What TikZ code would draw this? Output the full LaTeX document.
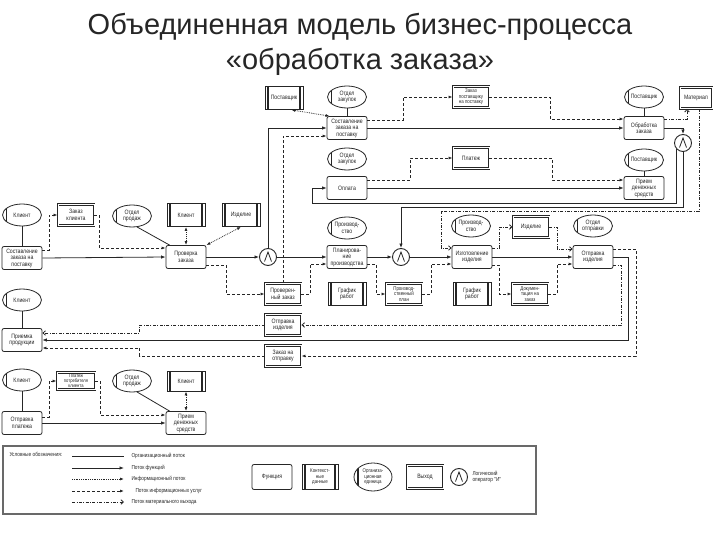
\documentclass[tikz,border=0pt]{standalone}
\usepackage[svgnames]{xcolor}
\usepackage{fontspec}
\setmainfont{Liberation Sans}
\newfontfamily\narrowfont[FakeStretch=0.82]{Liberation Sans}
\usetikzlibrary{shapes.geometric,arrows.meta}
\colorlet{lineCol}{black!85}
\colorlet{frameCol}{DimGray}
\colorlet{legendFill}{white}

\begin{document}
\begin{tikzpicture}[
  x=1pt, y=-1pt,
  every node/.style={
    font=\narrowfont\fontsize{6.3}{6.5}\selectfont,
    align=center,
    text=lineCol,
  },
  func/.style={
    draw=lineCol,
    line width=0.8pt,
    rounded corners=2pt,
    minimum width=40pt,
    minimum height=23pt,
    inner sep=0.5pt,
  },
  ctx/.style={
    draw=lineCol,
    line width=0.8pt,
    minimum width=38pt,
    minimum height=23pt,
    inner sep=0.5pt,
    path picture={
      \draw[line width=1.2pt] ([xshift=3pt]path picture bounding box.north west) -- ([xshift=3pt]path picture bounding box.south west);
      \draw[line width=1.2pt] ([xshift=-3pt]path picture bounding box.north east) -- ([xshift=-3pt]path picture bounding box.south east);
    },
  },
  outbox/.style={
    draw=lineCol,
    line width=0.9pt,
    double=white,
    double distance=1pt,
    minimum width=36pt,
    minimum height=21pt,
    inner sep=0.3pt,
  },
  org/.style={
    ellipse,
    draw=lineCol,
    line width=0.8pt,
    minimum width=39pt,
    minimum height=22pt,
    inner sep=0pt,
    path picture={
      \draw[line width=1.4pt] ([xshift=4pt]path picture bounding box.north west) -- ([xshift=4pt]path picture bounding box.south west);
    },
  },
  andop/.style={
    circle,
    draw=lineCol,
    line width=0.9pt,
    minimum size=17pt,
    inner sep=0pt,
    path picture={
      \draw[line width=0.8pt] ([xshift=-3.5pt,yshift=-4.5pt]path picture bounding box.center) -- ([yshift=5pt]path picture bounding box.center) -- ([xshift=3.5pt,yshift=-4.5pt]path picture bounding box.center);
    },
  },
  smalltext/.style={
    font=\narrowfont\fontsize{5.4}{5.6}\selectfont,
  },
  legtext/.style={
    anchor=west,
    align=left,
    font=\narrowfont\fontsize{5.8}{6.2}\selectfont,
  },
  orgflow/.style={
    draw=lineCol,
    line width=0.8pt,
  },
  fnflow/.style={
    draw=lineCol,
    line width=0.8pt,
    -{Latex[length=4.5pt,width=3.5pt]},
  },
  infoflow/.style={
    draw=lineCol,
    line width=0.8pt,
    dash pattern=on 0.8pt off 1pt,
    -{Latex[length=4pt,width=3pt]},
  },
  bothends/.style={
    {Latex[length=4pt,width=3pt]}-{Latex[length=4pt,width=3pt]},
  },
  svcflow/.style={
    draw=lineCol,
    line width=0.8pt,
    dash pattern=on 3pt off 2pt,
    -{Latex[length=4pt,width=3pt]},
  },
  matflow/.style={
    draw=lineCol,
    line width=0.8pt,
    dash pattern=on 3pt off 1.5pt on 0.8pt off 1.5pt,
    -{Straight Barb[length=2.5pt,width=4.5pt]},
  }
]
\useasboundingbox (0,0) rectangle (720,540);

\node[font=\fontsize{29}{34}\selectfont, anchor=base] (title1) at (360,35) {Объединенная модель бизнес-процесса};
\node[font=\fontsize{29}{34}\selectfont, anchor=base] (title2) at (360,70) {«обработка заказа»};

\node[ctx] (post1) at (284,98) {Поставщик};
\node[org] (ozak1) at (347,97) {Отдел\\закупок};
\node[func] (sostpost) at (347,128) {Составление\\заказа на\\поставку};
\node[outbox, smalltext] (zakpost) at (471,97) {Заказ\\поставщику\\на поставку};
\node[org] (postorg1) at (644,97) {Поставщик};
\node[func] (obrab) at (644,128) {Обработка\\заказа};
\node[outbox, minimum width=32pt] (mater) at (696,98) {Материал};
\node[andop] (and3) at (683,143) {};
\node[org] (ozak2) at (347,159) {Отдел\\закупок};
\node[func] (oplata) at (347,188) {Оплата};
\node[outbox] (platezh) at (471,158) {Платеж};
\node[org] (postorg2) at (644,160) {Поставщик};
\node[func] (priem1) at (644,188) {Прием\\денежных\\средств};

\node[org] (klient1) at (22,215) {Клиент};
\node[outbox] (zakkl) at (76,215) {Заказ\\клиента};
\node[org] (oprod1) at (132,216) {Отдел\\продаж};
\node[ctx] (klctx1) at (186,215) {Клиент};
\node[ctx] (izdctx) at (241,215) {Изделие};
\node[func] (sostkl) at (22,258) {Составление\\заказа на\\поставку};
\node[func] (prov) at (186,257) {Проверка\\заказа};
\node[andop] (and1) at (268,257) {};
\node[org] (proizv1) at (347,228) {Производ-\\ство};
\node[func] (plan) at (347,257) {Планирова-\\ние\\производства};
\node[andop] (and2) at (401,257) {};
\node[org] (proizv2) at (471,226) {Производ-\\ство};
\node[outbox] (izdout) at (531,227) {Изделие};
\node[org] (otpr) at (593,226) {Отдел\\отправки};
\node[func] (izgot) at (472,257) {Изготовление\\изделия};
\node[func] (otprf) at (593,257) {Отправка\\изделия};

\node[outbox] (provzak) at (283,294) {Проверен-\\ный заказ};
\node[ctx] (graf1) at (347,294) {График\\работ};
\node[outbox, smalltext] (plout) at (404,294) {Производ-\\ственный\\план};
\node[ctx] (graf2) at (472,294) {График\\работ};
\node[outbox, smalltext] (docs) at (530,294) {Докумен-\\тация на\\заказ};

\node[org] (klient2) at (22,300) {Клиент};
\node[func] (priemka) at (22,340) {Приемка\\продукции};
\node[outbox] (otprout) at (283,325) {Отправка\\изделия};
\node[outbox] (zakotp) at (283,356) {Заказ на\\отправку};

\node[org] (klient3) at (22,380) {Клиент};
\node[outbox, minimum width=38pt, minimum height=17pt, font=\narrowfont\fontsize{5}{5.2}\selectfont] (platpotr) at (76,381) {Платеж\\потребителя\\клиента};
\node[org] (oprod2) at (132,381) {Отдел\\продаж};
\node[ctx, minimum height=20pt] (klctx2) at (186,381) {Клиент};
\node[func] (otplat) at (22,423) {Отправка\\платежа};
\node[func] (priem2) at (186,423) {Прием\\денежных\\средств};

\coordinate (bendA) at (312,203);
\coordinate (bendB) at (401,207);
\coordinate (bendC) at (441,211);

\draw[infoflow, bothends] ([xshift=-12pt]post1.south east) -- ([xshift=3pt]sostpost.north west);
\draw[orgflow] (ozak1.south) -- (sostpost.north);
\draw[svcflow] ([yshift=8pt]sostpost.east) -- ++(36,0) |- (zakpost.west);
\draw[svcflow] (zakpost.east) -- ++(61,0) |- ([yshift=9pt]obrab.west);
\draw[fnflow] (sostpost.east) -- (obrab.west);
\draw[orgflow] (postorg1.south) -- (obrab.north);
\draw[fnflow] (obrab.east) -| (and3.north);
\draw[matflow] ([yshift=9pt]obrab.east) -| ([xshift=-9pt]mater.south);
\draw[svcflow] ([yshift=8pt]oplata.east) -- ++(43,0) |- (platezh.west);
\draw[svcflow] (platezh.east) -- ++(63,0) |- ([yshift=8pt]priem1.west);
\draw[fnflow] (oplata.east) -- (priem1.west);
\draw[orgflow] (postorg2.south) -- (priem1.north);
\draw[fnflow] (and3.-135) |- (bendA) |- (oplata.west);
\draw[fnflow] (and3.south) |- (bendB) -- (and2.north);
\draw[matflow] ([xshift=3pt]mater.south) |- (bendC) |- ([yshift=9pt]izgot.west);

\draw[orgflow] (klient1) -- (sostkl);
\draw[svcflow] ([yshift=8pt]sostkl.east) -- ++(7,0) |- (zakkl.west);
\draw[svcflow] (zakkl.east) -- ++(5,0) |- ([yshift=9pt]prov.west);
\draw[fnflow] (sostkl.east) -- (prov.west);
\draw[orgflow] (oprod1.-65) -- ([xshift=4pt]prov.north west);
\draw[infoflow, bothends] (klctx1.south) -- (prov.north);
\draw[infoflow, bothends] (prov.north east) -- (izdctx.south);
\draw[fnflow] (prov.east) -- (and1.west);
\draw[svcflow] ([yshift=-8pt]prov.east) -- ++(20,0) |- (provzak.west);
\draw[fnflow] (and1.north) |- (sostpost.west);
\draw[svcflow] (provzak.north) |- ([yshift=-8pt]sostpost.west);
\draw[fnflow] (and1.east) -- (plan.west);
\draw[svcflow] (provzak.east) -- ++(9,0) |- ([yshift=-7pt]plan.west);
\draw[fnflow] (plan.east) -- (and2.west);
\draw[svcflow] ([yshift=-7pt]plan.east) -- ++(9,0) |- (plout.west);
\draw[svcflow] (plout.east) -- ++(9,0) |- ([yshift=-7pt]izgot.west);
\draw[fnflow] (and2.east) -- (izgot.west);
\draw[matflow] ([yshift=9pt]izgot.east) -- ++(7,0) |- (izdout.west);
\draw[matflow] (izdout.east) -- ++(8,0) |- ([yshift=8pt]otprf.west);
\draw[fnflow] (izgot.east) -- (otprf.west);
\draw[svcflow] ([yshift=-8pt]izgot.east) -- ++(7,0) |- (docs.west);
\draw[svcflow] (docs.east) -- ++(9,0) |- ([yshift=-7pt]otprf.west);

\draw[svcflow] ([yshift=8pt]otprf.east) -- ++(23,0) |- (zakotp.east);
\draw[fnflow] (otprf.east) -- ++(15,0) |- (priemka.east);
\draw[matflow] ([yshift=-8pt]otprf.east) -- ++(8,0) |- (otprout.east);
\draw[matflow] (otprout.west) -- ++(-125,0) |- ([yshift=7pt]priemka.east);
\draw[svcflow] (zakotp.west) -- ++(-125,0) |- ([yshift=-8pt]priemka.east);
\draw[orgflow] (klient2) -- (priemka);

\draw[orgflow] (klient3) -- (otplat);
\draw[svcflow] ([yshift=6pt]otplat.east) -- ++(7,0) |- (platpotr.west);
\draw[svcflow] (platpotr.east) -- ++(5,0) |- ([yshift=8pt]priem2.west);
\draw[fnflow] (otplat.east) -- (priem2.west);
\draw[orgflow] (oprod2.-65) -- ([xshift=4pt]priem2.north west);
\draw[infoflow, bothends] (klctx2.south) -- (priem2.north);

\draw[draw=frameCol, fill=legendFill, line width=1.2pt] (3,446) rectangle (536,514);
\node[legtext] (legtitle) at (6,454) {Условные обозначения:};
\foreach \sty/\txt/\yy/\tx [count=\i] in {orgflow/Организационный поток/456/128,
    fnflow/Поток функций/468/128,
    infoflow/Информационный поток/479/128,
    svcflow/Поток информационных услуг/491/132,
    matflow/Поток материального выхода/502/128} {
  \coordinate (legA\i) at (72,\yy);
  \coordinate (legB\i) at (124,\yy);
  \draw[\sty] (legA\i) -- (legB\i);
  \node[legtext] (legT\i) at (\tx,\yy) {\txt};
}
\node[func, minimum height=25pt] (legfunc) at (272,477) {Функция};
\node[ctx, minimum width=36pt, minimum height=25pt, smalltext] (legctx) at (320,477) {Контекст-\\ные\\данные};
\node[org, minimum width=38pt, minimum height=28pt, smalltext] (legorg) at (373,477) {Организа-\\ционная\\единица};
\node[outbox, minimum height=23pt] (legout) at (425,477) {Выход};
\node[andop] (legand) at (459,477) {};
\node[legtext] (legandtxt) at (469,477) {Логический\\оператор "И"};
\end{tikzpicture}
\end{document}
